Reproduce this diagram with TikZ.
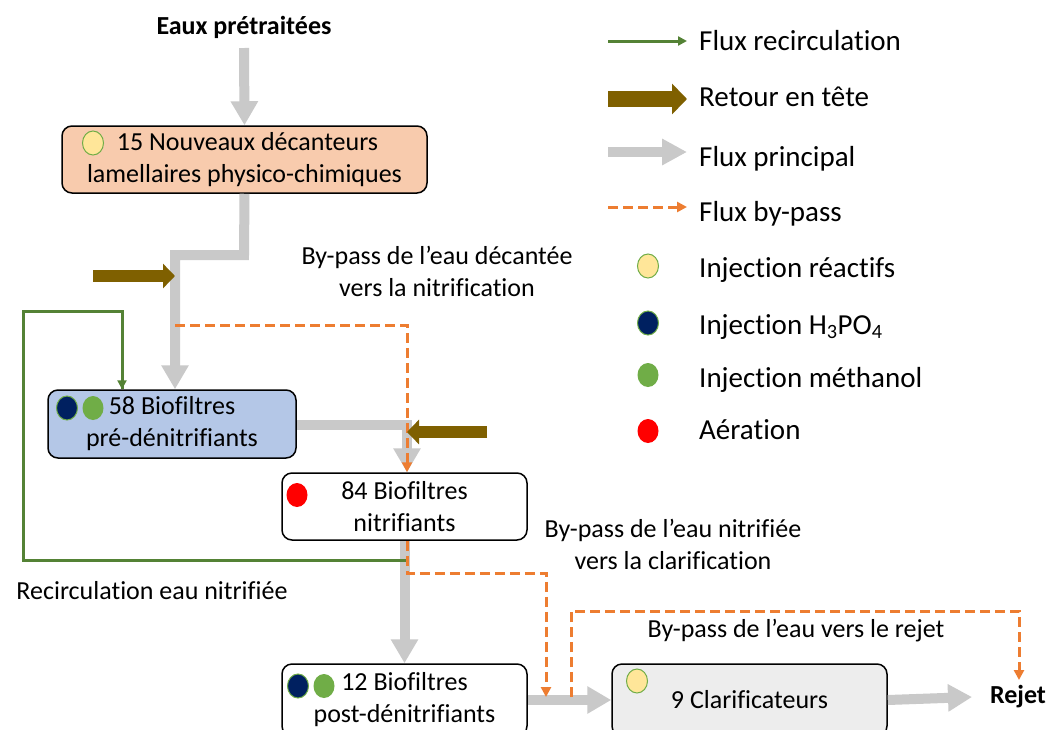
\documentclass[tikz,border=0pt]{standalone}
\usepackage{fontspec}
\setmainfont{Carlito}[RawFeature={-liga;-clig}]
\usetikzlibrary{arrows.meta,shapes.geometric}
\definecolor{flowgray}{HTML}{C9C9C9}
\definecolor{brn}{HTML}{7F6000}
\definecolor{recgreen}{HTML}{548235}
\definecolor{bporange}{HTML}{ED7D31}
\definecolor{peach}{HTML}{F8CBAD}
\definecolor{lblue}{HTML}{B4C7E7}
\definecolor{lgray}{HTML}{EDEDED}
\definecolor{yel}{HTML}{FFE699}
\definecolor{navy}{HTML}{002060}
\definecolor{mgreen}{HTML}{70AD47}
\begin{document}
\begin{tikzpicture}[x=1pt,y=-1pt,
  every node/.style={font=\fontsize{26}{32}\selectfont, inner sep=0pt},
  box/.style={draw=black, line width=1.5pt, rounded corners=10pt, align=center},
  mainflow/.style={draw=flowgray, line width=10pt, miter limit=10, -{Triangle[width=26pt,length=24pt]}},
  retour/.style={draw=brn, line width=12pt, -{Triangle[width=24pt,length=12pt]}},
  recirc/.style={draw=recgreen, line width=3pt, -{Triangle[width=9pt,length=9pt]}},
  bypass/.style={draw=bporange, line width=3pt, dash pattern=on 10pt off 5pt, -{Triangle[width=10pt,length=10pt]}},
  dot/.style={ellipse, minimum width=21pt, minimum height=24pt, draw=mgreen, line width=1pt},
  legtext/.style={font=\fontsize{29}{34}\selectfont, anchor=base west}
]
\useasboundingbox (0,0) rectangle (1050,729);
\fill[white] (0,0) rectangle (1050,729);

% texts
\node[font=\fontsize{26}{32}\selectfont\bfseries] (eaux) at (244,27) {Eaux prétraitées};
\node[font=\fontsize{26}{32}\selectfont\bfseries] (rejet) at (1018,697) {Rejet};

% boxes
\node[box, fill=peach, minimum width=365pt, minimum height=67pt] (dec) at (244.5,159.5)
  {\hspace*{6pt}15 Nouveaux décanteurs\\lamellaires physico-chimiques};
\node[box, fill=lblue, minimum width=248pt, minimum height=68pt] (pre) at (172,424)
  {58 Biofiltres\\pré-dénitrifiants};
\node[box, fill=white, minimum width=245pt, minimum height=67pt] (nit) at (404.5,506.5)
  {84 Biofiltres\\nitrifiants};
\node[box, fill=white, minimum width=245pt, minimum height=72pt] (post) at (404.5,700)
  {12 Biofiltres\\post-dénitrifiants};
\node[box, fill=lgray, minimum width=275pt, minimum height=72pt] (cla) at (749.5,700)
  {9 Clarificateurs};

% dots in boxes
\node[dot, fill=yel] (d1) at (93,143) {};
\node[dot, fill=navy] (d2) at (67,408) {};
\node[dot, fill=mgreen, draw=none] (d3) at (93,408) {};
\node[dot, fill=red, draw=none] (d4) at (297,495) {};
\node[dot, fill=navy] (d5) at (298,686) {};
\node[dot, fill=mgreen, draw=none] (d6) at (324,686) {};
\node[dot, fill=yel] (d7) at (637,681) {};

% coordinates
\coordinate (top) at (244,48);
\coordinate (c1) at (244,255);
\coordinate (c2) at (175,255);
\coordinate (jA) at (175,325);
\coordinate (c3) at (407,425);
\coordinate (retA) at (93,276);
\coordinate (retAend) at (175,276);
\coordinate (retB) at (487,432);
\coordinate (retBend) at (407,432);
\coordinate (g1) at (407,560);
\coordinate (g2) at (23,560);
\coordinate (g3) at (23,311);
\coordinate (g4) at (122,311);
\coordinate (o1) at (407,325);
\coordinate (o2) at (407,573);
\coordinate (o3) at (546,573);
\coordinate (o4) at (546,697);
\coordinate (o5) at (571,697);
\coordinate (o6) at (571,611);
\coordinate (o7) at (1019,611);
\coordinate (o8) at (1019,680);
\coordinate (rejetW) at (972,697);

% main flows
\draw[mainflow] (top) -- (dec.north);
\draw[mainflow] (dec.south) -- (c1) -- (c2) -- (c2 |- pre.north);
\draw[mainflow] (pre.east |- c3) -- (c3) -- (c3 |- nit.north);
\draw[mainflow] (nit.south) -- (post.north);
\draw[mainflow] (post.east) -- (cla.west);
\draw[mainflow] (cla.east) -- (rejetW);

% recirculation
\draw[recirc, -] (g1) -- (g2) -- (g3) -- (g4) -- (g4 |- pre.north);
\draw[recirc] (g4) -- (g4 |- pre.north);

% bypass
\draw[bypass] (jA) -- (o1) -- (o1 |- nit.north);
\draw[bypass] (nit.south -| o2) -- (o2) -- (o3) -- (o4);
\draw[bypass] (o5) -- (o6) -- (o7) -- (o8);

% retour en tete
\draw[retour] (retA) -- (retAend);
\draw[retour] (retB) -- (retBend);

% labels
\node[align=center] (l1) at (437,271) {By-pass de l’eau décantée\\vers la nitrification};
\node[align=center] (l2) at (673,544) {By-pass de l’eau nitrifiée\\vers la clarification};
\node (l3) at (152,591) {Recirculation eau nitrifiée};
\node (l4) at (796,631) {By-pass de l’eau vers le rejet};

% legend
\coordinate (la1) at (608,41); \coordinate (lb1) at (687,41);
\coordinate (la2) at (608,99); \coordinate (lb2) at (687,99);
\coordinate (la3) at (608,152); \coordinate (lb3) at (687,152);
\coordinate (la4) at (608,207); \coordinate (lb4) at (687,207);
\draw[recirc] (la1) -- (lb1);
\draw[draw=brn, line width=16pt, -{Triangle[width=30pt,length=15pt]}] (la2) -- (lb2);
\draw[mainflow, -{Triangle[width=25pt,length=25pt]}] (la3) -- (lb3);
\draw[bypass] (la4) -- (lb4);
\node[dot, fill=yel] (ld1) at (648,266) {};
\node[dot, fill=navy] (ld2) at (648,323) {};
\node[dot, fill=mgreen, draw=none] (ld3) at (648,375) {};
\node[dot, fill=red, draw=none] (ld4) at (648,431) {};
\node[legtext] (t1) at (699,50) {Flux recirculation};
\node[legtext] (t2) at (699,106) {Retour en tête};
\node[legtext] (t3) at (699,166) {Flux principal};
\node[legtext] (t4) at (699,221) {Flux by-pass};
\node[legtext] (t5) at (699,277) {Injection réactifs};
\node[legtext] (t6) at (699,334) {Injection H\textsubscript{3}PO\textsubscript{4}};
\node[legtext] (t7) at (699,387) {Injection méthanol};
\node[legtext] (t8) at (699,439) {Aération};
\end{tikzpicture}
\end{document}
